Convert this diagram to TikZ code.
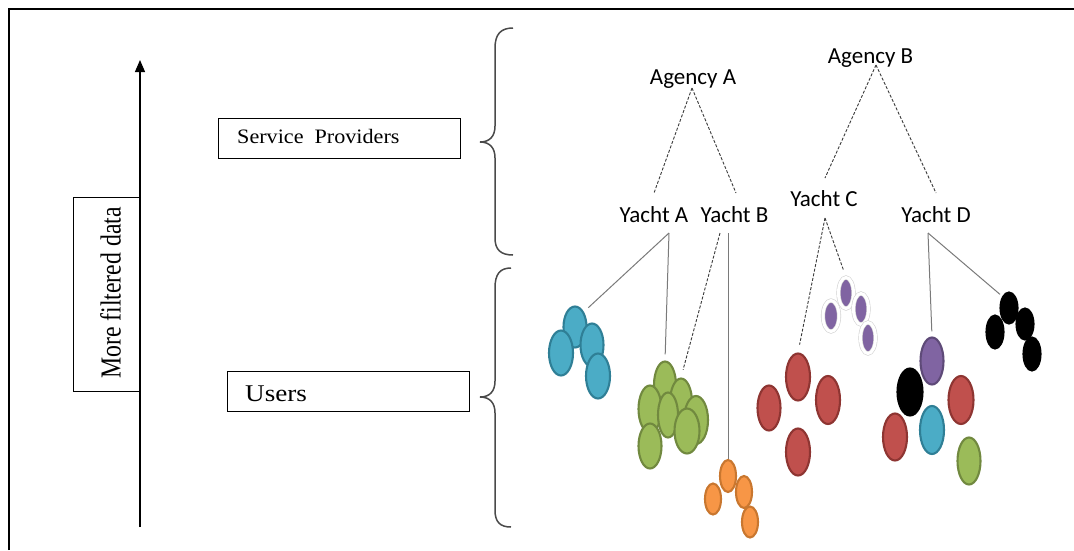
\documentclass[tikz,border=0pt]{standalone}
\usepackage{fontspec}
\usepackage{graphicx}
\setmainfont{Liberation Serif}
\newfontfamily\labelfont{Carlito}
\usetikzlibrary{shapes.geometric,arrows.meta}

\definecolor{cBlue}{HTML}{4BACC6}
\definecolor{cBlueE}{HTML}{2F7F96}
\definecolor{cGreen}{HTML}{9BBB59}
\definecolor{cGreenE}{HTML}{71893F}
\definecolor{cOrange}{HTML}{F79646}
\definecolor{cOrangeE}{HTML}{C9772F}
\definecolor{cRed}{HTML}{C0504D}
\definecolor{cRedE}{HTML}{8E3532}
\definecolor{cPurple}{HTML}{8064A2}
\definecolor{cPurpleE}{HTML}{5E4A78}
\definecolor{lineGray}{HTML}{7A7A7A}
\definecolor{dashGray}{HTML}{3A3A3A}
\definecolor{braceGray}{HTML}{4A4A4A}

\tikzset{
  frameline/.style={black, line width=1.6pt},
  labelbox/.style={draw=black, line width=1.1pt, inner sep=0pt, anchor=north west},
  treelabel/.style={font=\labelfont\fontsize{23}{27}\selectfont, inner sep=0pt, anchor=base},
  dashlink/.style={dashGray, line width=0.9pt, dash pattern=on 3pt off 1.7pt},
  solidlink/.style={lineGray, line width=1pt},
  curly/.style={braceGray, line width=1.5pt},
  blob/.style n args={2}{ellipse, inner sep=0pt, minimum width=#1pt, minimum height=#2pt, line width=2.1pt},
  bluedot/.style={fill=cBlue, draw=cBlueE},
  greendot/.style={fill=cGreen, draw=cGreenE},
  orangedot/.style={fill=cOrange, draw=cOrangeE},
  reddot/.style={fill=cRed, draw=cRedE},
  purpledot/.style={fill=cPurple, draw=cPurpleE},
  blackdot/.style={fill=black, draw=black},
  purplespeck/.style={fill=cPurple, draw=gray!35, line width=0.6pt, double=white, double distance=3pt},
}

\begin{document}
\begin{tikzpicture}[x=1pt, y=-1pt]
\useasboundingbox (0,0) rectangle (1074,550);
\fill[white] (0,0) rectangle (1074,550);

% outer frame (top and left edges)
\draw[frameline] (9,550) -- (9,9) -- (1074,9);

% direction arrow with its label box
\coordinate (arrowBase) at (140,527);
\coordinate (arrowTip) at (140,60);
\draw[black, line width=1.2pt, -{Triangle[width=10pt,length=12pt]}] (arrowBase) -- (arrowTip);
\node[labelbox, minimum width=67.5pt, minimum height=194pt] (mfbox) at (72.5,197) {};
\node[rotate=90, anchor=base, inner sep=0pt, font=\fontsize{29}{32}\selectfont] (mftext) at (120.5,293)
  {\scalebox{0.82}[1]{More filtered data}};

% layer boxes
\node[labelbox, minimum width=242pt, minimum height=40pt] (spbox) at (218,118) {};
\node[anchor=base west, inner sep=0pt, font=\fontsize{20.5}{24}\selectfont] (sptext) at (237,143)
  {\scalebox{1.08}[1]{Service\ \ Providers}};
\node[labelbox, minimum width=242.5pt, minimum height=40pt] (usbox) at (226.5,371) {};
\node[anchor=base west, inner sep=0pt, font=\fontsize{24}{28}\selectfont] (ustext) at (245,401)
  {\scalebox{1.13}[1]{Users}};

% curly braces
\draw[curly] (513,28) .. controls (501,28) and (495,34) .. (495,48) -- (495,126)
  .. controls (495,136) and (490,142) .. (480,142)
  .. controls (490,142) and (495,148) .. (495,158) -- (495,238)
  .. controls (495,250) and (501,255) .. (513,255);
\draw[curly] (511,268) .. controls (500,268) and (495,274) .. (495,288) -- (495,381)
  .. controls (495,391) and (490,397) .. (480,397)
  .. controls (490,397) and (495,403) .. (495,413) -- (495,510)
  .. controls (495,522) and (500,527) .. (511,527);

% tree labels
\node[treelabel] (agA) at (693,84.5) {Agency A};
\node[treelabel] (agB) at (870.5,63) {Agency B};
\node[treelabel] (yA) at (654,222) {Yacht A};
\node[treelabel] (yB) at (734.5,222) {Yacht B};
\node[treelabel] (yC) at (824,206) {Yacht C};
\node[treelabel] (yD) at (936,222) {Yacht D};

% attachment points under the labels
\coordinate (agAfoot) at (692,88);
\coordinate (agBfoot) at (876,65);
\coordinate (yAtop) at (654,193);
\coordinate (yBtop) at (736,193);
\coordinate (yCtop) at (825,178);
\coordinate (yDtop) at (936,193);
\coordinate (yAfoot) at (669,233);
\coordinate (yBfootL) at (720,233);
\coordinate (yBfootR) at (728,233);
\coordinate (yCfoot) at (825,218);
\coordinate (yDfoot) at (928,233);

% agencies to yachts
\draw[dashlink] (agAfoot) -- (yAtop);
\draw[dashlink] (agAfoot) -- (yBtop);
\draw[dashlink] (agBfoot) -- (yCtop);
\draw[dashlink] (agBfoot) -- (yDtop);

% user groups of Yacht A: blue and green
\node[blob={23}{41}, bluedot] (b1) at (575,327) {};
\node[blob={24}{45}, bluedot] (b2) at (561,353) {};
\node[blob={23}{43}, bluedot] (b3) at (592,345) {};
\node[blob={24}{45}, bluedot] (b4) at (598,376) {};

\node[blob={22}{47}, greendot] (g1) at (665,385) {};
\node[blob={22}{47}, greendot] (g4) at (681,402) {};
\node[blob={24}{48}, greendot] (g5) at (696,420) {};
\node[blob={23}{47}, greendot] (g2) at (650,409) {};
\node[blob={20}{45}, greendot] (g3) at (668,415) {};
\node[blob={25}{45}, greendot] (g6) at (687,431) {};
\node[blob={23}{45}, greendot] (g7) at (650,446) {};

% user group of Yacht B: orange
\node[blob={16}{32}, orangedot] (o1) at (728,476) {};
\node[blob={16}{31}, orangedot] (o2) at (713,499) {};
\node[blob={16}{32}, orangedot] (o3) at (744,492) {};
\node[blob={16}{31}, orangedot] (o4) at (750,522) {};

% user groups of Yacht C: red and purple
\node[blob={24}{47}, reddot] (r1) at (798,377) {};
\node[blob={23}{45}, reddot] (r2) at (769,408) {};
\node[blob={24}{48}, reddot] (r3) at (828,400) {};
\node[blob={24}{47}, reddot] (r4) at (798,452) {};

\node[blob={15}{31}, purplespeck] (p1) at (846,293) {};
\node[blob={16}{31}, purplespeck] (p2) at (831,316) {};
\node[blob={15}{31}, purplespeck] (p3) at (861,309) {};
\node[blob={15}{31}, purplespeck] (p4) at (868,338) {};

% user groups of Yacht D: mixed and black
\node[blob={23}{47}, purpledot] (m1) at (932,361) {};
\node[blob={25}{47}, blackdot] (m2) at (910,392) {};
\node[blob={25}{48}, reddot] (m3) at (961,400) {};
\node[blob={24}{47}, reddot] (m4) at (895,437) {};
\node[blob={24}{48}, bluedot] (m5) at (932,430) {};
\node[blob={23}{47}, greendot] (m6) at (969,461) {};

\node[blob={17}{31}, blackdot] (k1) at (1009,308) {};
\node[blob={17}{33}, blackdot] (k2) at (995,332) {};
\node[blob={17}{31}, blackdot] (k3) at (1025,324) {};
\node[blob={17}{33}, blackdot] (k4) at (1032,354) {};

% yachts to user groups
\draw[solidlink, shorten >=6pt] (yAfoot) -- (b1.north east);
\draw[solidlink, shorten >=6pt] (yAfoot) -- (g1.north);
\draw[dashlink, shorten >=8pt] (yBfootL) -- (g4.north);
\draw[solidlink] (yBfootR) -- (o1.north);
\draw[dashlink, shorten >=8pt] (yCfoot) -- (r1.north);
\draw[dashlink, shorten >=7pt] (yCfoot) -- (p1.north);
\draw[solidlink, shorten >=5pt] (yDfoot) -- (m1.north);
\draw[solidlink, shorten >=3pt] (yDfoot) -- (k1.north west);
\end{tikzpicture}
\end{document}
